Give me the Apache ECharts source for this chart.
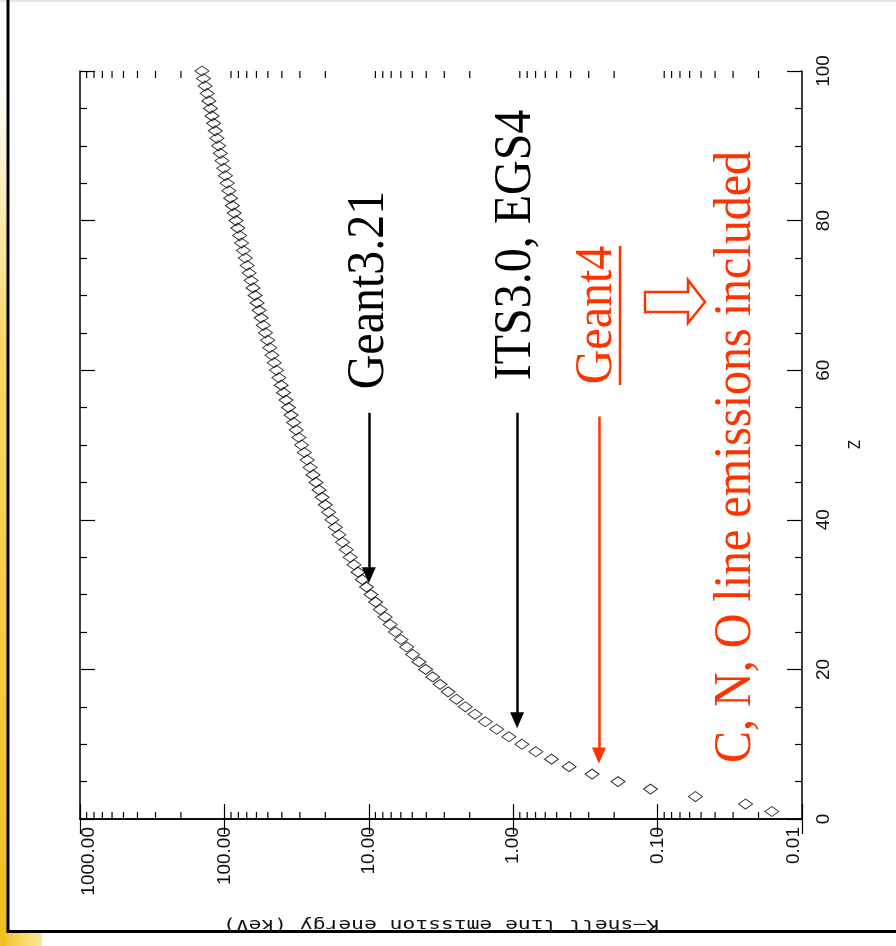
<!DOCTYPE html>
<html>
<head>
<meta charset="utf-8">
<script src="https://cdn.jsdelivr.net/npm/echarts@6/dist/echarts.min.js"></script>
<style>
  html, body { margin: 0; padding: 0; background: #fff; }
  #chart { width: 896px; height: 946px; }
</style>
</head>
<body>
<div id="chart"></div>
<script>
// atomic number Z
var zValues = [
  1, 2, 3, 4, 5, 6, 7, 8, 9, 10, 11, 12, 13, 14, 15, 16, 17, 18, 19, 20,
  21, 22, 23, 24, 25, 26, 27, 28, 29, 30, 31, 32, 33, 34, 35, 36, 37, 38, 39, 40,
  41, 42, 43, 44, 45, 46, 47, 48, 49, 50, 51, 52, 53, 54, 55, 56, 57, 58, 59, 60,
  61, 62, 63, 64, 65, 66, 67, 68, 69, 70, 71, 72, 73, 74, 75, 76, 77, 78, 79, 80,
  81, 82, 83, 84, 85, 86, 87, 88, 89, 90, 91, 92, 93, 94, 95, 96, 97, 98, 99, 100
];
// K-shell energy (keV)
var energyKeV = [
  0.0162, 0.0246, 0.0547, 0.112, 0.188, 0.284, 0.410, 0.543, 0.697, 0.870,
  1.071, 1.303, 1.560, 1.839, 2.146, 2.472, 2.822, 3.206, 3.608, 4.038,
  4.492, 4.966, 5.465, 5.989, 6.539, 7.112, 7.709, 8.333, 8.979, 9.659,
  10.37, 11.10, 11.87, 12.66, 13.47, 14.33, 15.20, 16.11, 17.04, 18.00,
  18.99, 20.00, 21.04, 22.12, 23.22, 24.35, 25.51, 26.71, 27.94, 29.20,
  30.49, 31.81, 33.17, 34.56, 35.99, 37.44, 38.93, 40.44, 41.99, 43.57,
  45.18, 46.83, 48.52, 50.24, 52.00, 53.79, 55.62, 57.49, 59.39, 61.33,
  63.31, 65.35, 67.42, 69.53, 71.68, 73.87, 76.11, 78.40, 80.73, 83.10,
  85.53, 88.01, 90.53, 93.11, 95.73, 98.40, 101.1, 103.9, 106.8, 109.7,
  112.6, 115.6, 118.7, 121.8, 125.0, 128.2, 131.6, 136.0, 139.5, 143.1
];
// minor ticks of the log energy axis (2..9 per decade)
var minorTicks = [
  0.02, 0.03, 0.04, 0.05, 0.06, 0.07, 0.08, 0.09,
  0.2, 0.3, 0.4, 0.5, 0.6, 0.7, 0.8, 0.9,
  2, 3, 4, 5, 6, 7, 8, 9,
  20, 30, 40, 50, 60, 70, 80, 90,
  200, 300, 400, 500, 600, 700, 800, 900
];
// arrows: [energy, Z from, Z to]
var arrowGeant3 = [10, 54.3, 32.6];
var arrowITS = [0.94, 54.3, 13.2];
var arrowGeant4 = [0.255, 53.8, 8.5];

var RED = '#ff3300';
var points = [];
for (var i = 0; i < zValues.length; i++) {
  points.push([energyKeV[i], zValues[i]]);
}

var chart = echarts.init(document.getElementById('chart'));

var labelFont = { fontFamily: 'Liberation Sans', fontSize: 19, color: '#111' };

var energyAxisBase = {
  type: 'log',
  logBase: 10,
  min: 0.01,
  max: 1000,
  inverse: true,
  splitLine: { show: false },
  axisLine: { lineStyle: { color: '#000', width: 1.5 } },
  axisTick: { inside: true, length: 15, lineStyle: { color: '#000', width: 1.2 } }
};

var option = {
  animation: false,
  backgroundColor: '#fff',
  grid: { left: 80, right: 94, top: 71, bottom: 127 },
  xAxis: [
    Object.assign({}, energyAxisBase, {
      position: 'bottom',
      axisLabel: Object.assign({
        rotate: 90,
        margin: 8,
        // end labels are pushed inside the frame
        formatter: function (v) {
          var s = Number(v).toFixed(2);
          if (v >= 999) return '{hi|' + s + '}';
          if (v <= 0.0101) return '{lo|' + s + '}';
          return '{n|' + s + '}';
        },
        rich: {
          n: Object.assign({}, labelFont),
          hi: Object.assign({ padding: [18, 0, 0, 0] }, labelFont),
          lo: Object.assign({ padding: [0, 0, 16, 0] }, labelFont)
        }
      }, labelFont)
    }),
    Object.assign({}, energyAxisBase, {
      position: 'top',
      axisLabel: { show: false }
    })
  ],
  yAxis: [
    {
      type: 'value',
      min: 0,
      max: 100,
      interval: 20,
      position: 'right',
      name: 'Z',
      nameLocation: 'middle',
      nameRotate: 90,
      nameGap: 46,
      nameTextStyle: { fontFamily: 'DejaVu Sans Mono', fontSize: 16, color: '#111' },
      splitLine: { show: false },
      axisLine: { lineStyle: { color: '#000', width: 1.5 } },
      axisTick: { inside: true, length: 15, lineStyle: { color: '#000', width: 1.2 } },
      minorTick: { show: true, splitNumber: 4, length: 7, lineStyle: { color: '#000', width: 1.2 } },
      axisLabel: Object.assign({ rotate: 90, margin: 12 }, labelFont)
    },
    {
      type: 'value',
      min: 0,
      max: 100,
      interval: 20,
      position: 'left',
      splitLine: { show: false },
      axisLine: { lineStyle: { color: '#000', width: 1.5 } },
      axisTick: { inside: true, length: 15, lineStyle: { color: '#000', width: 1.2 } },
      minorTick: { show: true, splitNumber: 4, length: 7, lineStyle: { color: '#000', width: 1.2 } },
      axisLabel: { show: false }
    }
  ],
  series: [
    {
      type: 'custom',
      silent: true,
      clip: false,
      data: minorTicks.map(function (v) { return [v, 0]; }),
      renderItem: function (params, api) {
        var cs = params.coordSys;
        var x = api.coord([api.value(0), 0])[0];
        var st = { stroke: '#000', lineWidth: 1.2 };
        return {
          type: 'group',
          children: [
            { type: 'line', shape: { x1: x, y1: cs.y + cs.height, x2: x, y2: cs.y + cs.height - 7 }, style: st },
            { type: 'line', shape: { x1: x, y1: cs.y, x2: x, y2: cs.y + 7 }, style: st }
          ]
        };
      }
    },
    {
      type: 'scatter',
      data: points,
      symbol: 'diamond',
      symbolSize: [14, 10],
      silent: true,
      itemStyle: { color: 'rgba(255,255,255,0)', borderColor: '#000', borderWidth: 1 },
      markLine: {
        silent: true,
        symbol: ['none', 'triangle'],
        symbolSize: [14, 16],
        label: { show: false },
        emphasis: { disabled: true },
        data: [
          [
            { coord: [arrowGeant3[0], arrowGeant3[1]], lineStyle: { color: '#000', width: 2.5, type: 'solid' } },
            { coord: [arrowGeant3[0], arrowGeant3[2]] }
          ],
          [
            { coord: [arrowITS[0], arrowITS[1]], lineStyle: { color: '#000', width: 2.5, type: 'solid' } },
            { coord: [arrowITS[0], arrowITS[2]] }
          ],
          [
            { coord: [arrowGeant4[0], arrowGeant4[1]], lineStyle: { color: RED, width: 2.5, type: 'solid' } },
            { coord: [arrowGeant4[0], arrowGeant4[2]] }
          ]
        ]
      }
    }
  ],
  graphic: [
    // slide decoration
    { type: 'rect', shape: { x: 0, y: 0, width: 896, height: 2 }, style: { fill: '#e6e6e6' }, silent: true },
    {
      type: 'rect', shape: { x: 0, y: 80, width: 7, height: 866 }, silent: true,
      style: {
        fill: new echarts.graphic.LinearGradient(0, 0, 0, 1, [
          { offset: 0, color: 'rgba(245,200,40,0)' },
          { offset: 0.3, color: 'rgba(245,200,40,0.7)' },
          { offset: 1, color: 'rgba(240,190,30,1)' }
        ])
      }
    },
    {
      type: 'rect', shape: { x: 0, y: 933, width: 42, height: 13 }, silent: true,
      style: {
        fill: new echarts.graphic.LinearGradient(0, 0, 1, 0, [
          { offset: 0, color: 'rgba(240,190,30,1)' },
          { offset: 1, color: 'rgba(250,215,90,0.6)' }
        ])
      }
    },
    { type: 'line', shape: { x1: 8, y1: 0, x2: 8, y2: 933 }, style: { stroke: '#000', lineWidth: 3 }, silent: true },
    { type: 'line', shape: { x1: 7, y1: 931.5, x2: 896, y2: 931.5 }, style: { stroke: '#000', lineWidth: 3 }, silent: true },
    // energy axis title (upside down)
    {
      type: 'text', x: 441, y: 924, rotation: Math.PI, scaleX: 1.42, silent: true,
      style: {
        text: 'K\u2013shell line emission energy (keV)',
        font: '15px "DejaVu Sans Mono"', fill: '#111',
        align: 'center', verticalAlign: 'middle'
      }
    },
    // annotations
    {
      type: 'text', x: 369, y: 290, rotation: Math.PI / 2, scaleY: 1.1, silent: true,
      style: { text: 'Geant3.21', font: '48px "Liberation Serif"', fill: '#000', align: 'center', verticalAlign: 'middle' }
    },
    {
      type: 'text', x: 516, y: 245, rotation: Math.PI / 2, scaleY: 1.1, silent: true,
      style: { text: 'ITS3.0, EGS4', font: '48px "Liberation Serif"', fill: '#000', align: 'center', verticalAlign: 'middle' }
    },
    {
      type: 'text', x: 597, y: 315, rotation: Math.PI / 2, scaleY: 1.1, silent: true,
      style: { text: 'Geant4', font: '48px "Liberation Serif"', fill: RED, align: 'center', verticalAlign: 'middle' }
    },
    { type: 'line', shape: { x1: 620, y1: 246, x2: 620, y2: 385 }, style: { stroke: RED, lineWidth: 2.5 }, silent: true },
    {
      type: 'polygon', silent: true,
      shape: { points: [[645, 292], [688, 292], [688, 280], [705, 302], [688, 323], [688, 312], [645, 312]] },
      style: { fill: '#fff', stroke: RED, lineWidth: 2.5 }
    },
    {
      type: 'text', x: 736, y: 457, rotation: Math.PI / 2, scaleY: 1.1, silent: true,
      style: { text: 'C, N, O line emissions included', font: '48px "Liberation Serif"', fill: RED, align: 'center', verticalAlign: 'middle' }
    }
  ]
};

chart.setOption(option);
</script>
</body>
</html>
